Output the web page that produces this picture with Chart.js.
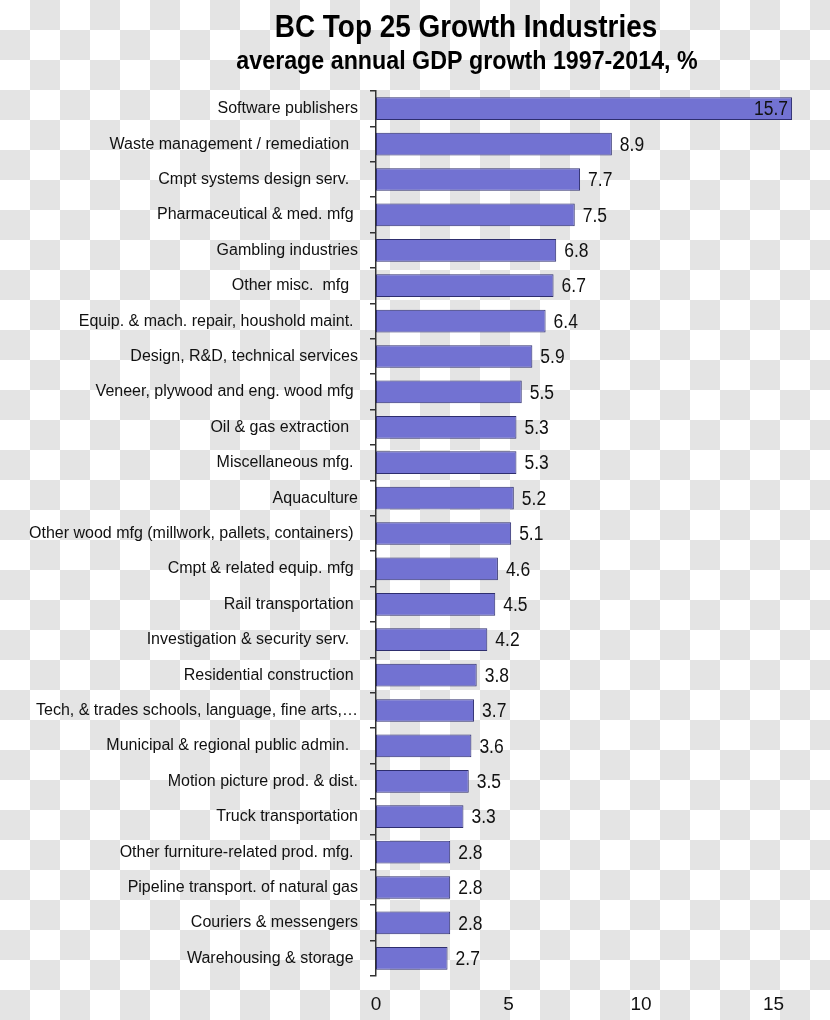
<!DOCTYPE html>
<html>
<head>
<meta charset="utf-8">
<script src="https://cdn.jsdelivr.net/npm/chart.js@4"></script>
<style>
  html, body { margin: 0; padding: 0; }
  body {
    width: 830px; height: 1020px; overflow: hidden;
    background: repeating-conic-gradient(#e4e4e4 0 25%, #ffffff 0 50%) 0 0 / 60px 60px;
  }
  #c { display: block; }
</style>
</head>
<body>
<canvas id="c" width="830" height="1020"></canvas>
<script>
const titleText = "BC Top 25 Growth Industries";
const subtitleText = "average annual GDP growth 1997-2014, %";

const industries = [
  "Software publishers",
  "Waste management / remediation  ",
  "Cmpt systems design serv.  ",
  "Pharmaceutical & med. mfg ",
  "Gambling industries",
  "Other misc.  mfg  ",
  "Equip. & mach. repair, houshold maint. ",
  "Design, R&D, technical services",
  "Veneer, plywood and eng. wood mfg ",
  "Oil & gas extraction  ",
  "Miscellaneous mfg. ",
  "Aquaculture",
  "Other wood mfg (millwork, pallets, containers) ",
  "Cmpt & related equip. mfg ",
  "Rail transportation ",
  "Investigation & security serv.  ",
  "Residential construction ",
  "Tech, & trades schools, language, fine arts,…",
  "Municipal & regional public admin.  ",
  "Motion picture prod. & dist.",
  "Truck transportation",
  "Other furniture-related prod. mfg. ",
  "Pipeline transport. of natural gas",
  "Couriers & messengers",
  "Warehousing & storage "
];

const growth = [15.7, 8.9, 7.7, 7.5, 6.8, 6.7, 6.4, 5.9, 5.5, 5.3, 5.3, 5.2, 5.1,
                4.6, 4.5, 4.2, 3.8, 3.7, 3.6, 3.5, 3.3, 2.8, 2.8, 2.8, 2.7];

const xTickValues = [0, 5, 10, 15];
const xMin = 0;
const xMax = 16;

const FONT = "'Liberation Sans', Arial, sans-serif";

const overlayPlugin = {
  id: 'overlay',
  afterDraw(chart) {
    const ctx = chart.ctx;
    ctx.save();
    ctx.fillStyle = '#000';
    ctx.textAlign = 'center';
    ctx.textBaseline = 'alphabetic';
    // title
    ctx.save();
    ctx.translate(466, 37);
    ctx.scale(0.9, 1);
    ctx.font = "bold 31px " + FONT;
    ctx.fillText(titleText, 0, 0);
    ctx.restore();
    // subtitle
    ctx.save();
    ctx.translate(467, 69);
    ctx.scale(0.93, 1);
    ctx.font = "bold 25px " + FONT;
    ctx.fillText(subtitleText, 0, 0);
    ctx.restore();

    // value labels
    const meta = chart.getDatasetMeta(0);
    ctx.font = "19px " + FONT;
    ctx.fillStyle = '#111';
    ctx.textBaseline = 'middle';
    meta.data.forEach((bar, i) => {
      const v = chart.data.datasets[0].data[i];
      const txt = v.toFixed(1);
      const inside = bar.x > chart.chartArea.right - 40;
      ctx.save();
      if (inside) {
        ctx.textAlign = 'right';
        ctx.translate(bar.x - 4, bar.y + 1);
      } else {
        ctx.textAlign = 'left';
        ctx.translate(bar.x + 8, bar.y + 1);
      }
      ctx.scale(0.92, 1.08);
      ctx.fillText(txt, 0, 0);
      ctx.restore();
    });
    ctx.restore();
  }
};

new Chart(document.getElementById('c'), {
  type: 'bar',
  data: {
    labels: industries,
    datasets: [{
      data: growth,
      backgroundColor: '#7272d2',
      borderColor: '#2e2e6e',
      borderWidth: 1,
      borderSkipped: false,
      barPercentage: 0.64,
      categoryPercentage: 1.0
    }]
  },
  options: {
    indexAxis: 'y',
    responsive: false,
    animation: false,
    layout: { padding: { top: 91, right: 30, bottom: 0, left: 0 } },
    plugins: {
      legend: { display: false },
      tooltip: { enabled: false },
      title: { display: false }
    },
    scales: {
      x: {
        type: 'linear',
        min: xMin,
        max: xMax,
        afterBuildTicks(axis) {
          axis.ticks = xTickValues.map(v => ({ value: v }));
        },
        afterFit(axis) { axis.height = 44; },
        grid: { display: false, drawTicks: false },
        border: { display: false },
        ticks: {
          color: '#111',
          font: { family: FONT, size: 19 },
          padding: 17,
          maxRotation: 0
        }
      },
      y: {
        type: 'category',
        afterFit(axis) { axis.width = 376; },
        grid: {
          display: true,
          offset: true,
          drawOnChartArea: false,
          drawTicks: true,
          tickLength: 6,
          color: '#333',
          lineWidth: 1.5
        },
        border: { display: true, color: '#333', width: 1.5 },
        ticks: {
          color: '#111',
          font: { family: FONT, size: 16 },
          padding: 12,
          autoSkip: false
        }
      }
    }
  },
  plugins: [overlayPlugin]
});
</script>
</body>
</html>
